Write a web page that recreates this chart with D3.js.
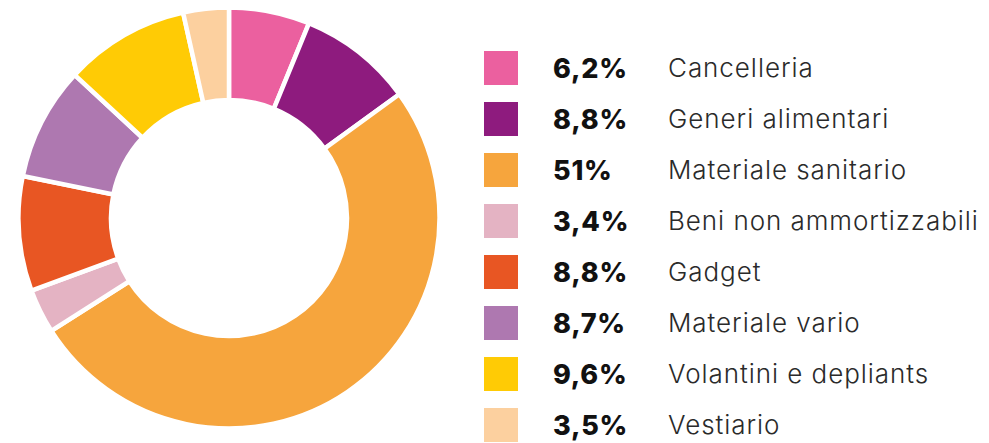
<!DOCTYPE html>
<html><head><meta charset="utf-8">
<script src="https://cdn.jsdelivr.net/npm/d3@7"></script>
<style>body{margin:0;background:#fff}svg{display:block}</style>
</head><body>
<svg id="c" width="989" height="443"></svg>
<script>
const categories = ["Cancelleria","Generi alimentari","Materiale sanitario","Beni non ammortizzabili","Gadget","Materiale vario","Volantini e depliants","Vestiario"];
const values = [6.2, 8.8, 51, 3.4, 8.8, 8.7, 9.6, 3.5];
const valueLabels = ["6,2%","8,8%","51%","3,4%","8,8%","8,7%","9,6%","3,5%"];
const colors = ["#EB609F","#8E1B7E","#F6A53D","#E4B3C3","#E85623","#AE78B0","#FFCB05","#FCD09F"];

const svg = d3.select("#c");
const cx = 229, cy = 218, R = 210.5, r = 118;
const pie = d3.pie().sort(null).value(d => d)(values);
const arc = d3.arc().innerRadius(r).outerRadius(R);
const g = svg.append("g").attr("transform", `translate(${cx},${cy})`);
g.selectAll("path").data(pie).join("path")
  .attr("d", arc).attr("fill", (d,i) => colors[i])
  .attr("stroke", "#fff").attr("stroke-width", 4.5).attr("stroke-linejoin","miter");

const y = d3.scaleBand().domain(categories).range([42.5, 450.5]);
const leg = svg.append("g");
const rows = leg.selectAll("g").data(categories).join("g")
  .attr("transform", d => `translate(0,${y(d) + y.bandwidth()/2})`);
rows.append("rect").attr("x", 484).attr("y", -17).attr("width", 34).attr("height", 34)
  .attr("fill", (d,i) => colors[i]);
rows.append("text").attr("x", 553).attr("dy", "0.36em")
  .attr("font-family", "Inter, 'Open Sans', sans-serif").attr("font-weight", 800)
  .attr("font-size", 27).attr("letter-spacing", 0.8).attr("fill", "#111").text((d,i) => valueLabels[i]);
rows.append("text").attr("x", 668).attr("dy", "0.36em")
  .attr("font-family", "Inter, 'Open Sans', sans-serif").attr("font-weight", 300)
  .attr("font-size", 26).attr("letter-spacing", 0.95).attr("fill", "#2a2a2a").text(d => d);
</script>
</body></html>
